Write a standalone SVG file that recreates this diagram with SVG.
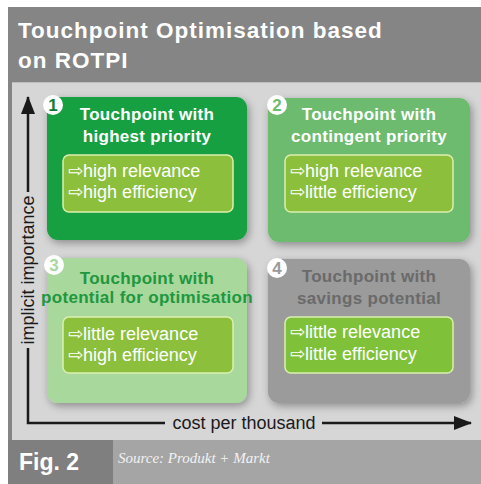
<svg xmlns="http://www.w3.org/2000/svg" width="481" height="484" viewBox="0 0 481 484">
  <defs>
    <filter id="sh" x="-10%" y="-10%" width="125%" height="130%">
      <feGaussianBlur in="SourceAlpha" stdDeviation="4"/>
      <feOffset dx="2" dy="3" result="b"/>
      <feComponentTransfer><feFuncA type="linear" slope="0.35"/></feComponentTransfer>
      <feMerge><feMergeNode/><feMergeNode in="SourceGraphic"/></feMerge>
    </filter>
    <marker id="ah" viewBox="0 0 18 14" refX="17" refY="7" markerWidth="18" markerHeight="14" markerUnits="userSpaceOnUse" orient="auto">
      <path d="M0,0 L18,7 L0,14 Z" fill="#1a1a1a"/>
    </marker>
  </defs>
  <style>
    .h { font-family: "Liberation Sans", Arial, sans-serif; font-weight: bold; }
    .t { font-family: "Liberation Sans", Arial, sans-serif; font-weight: bold; font-size: 17px; text-anchor: middle; letter-spacing: 0.3px; }
    .b { font-family: "Liberation Sans", Arial, "DejaVu Sans", sans-serif; font-size: 18px; fill: #ffffff; }
    .ib { stroke: #dcefae; stroke-width: 1.5; }
    .badge { fill: #ffffff; }
    .bn { font-family: "Liberation Sans", Arial, sans-serif; font-weight: bold; font-size: 17px; text-anchor: middle; }
    .ax { stroke: #1a1a1a; stroke-width: 2.5; fill: none; }
    .al { font-family: "Liberation Sans", Arial, sans-serif; font-size: 18px; fill: #1a1a1a; }
  </style>

  <!-- frame -->
  <rect x="8" y="7" width="473" height="477" fill="#858585"/>
  <rect x="12" y="82" width="469" height="358" fill="#d6d6d6"/>
  <line x1="12" y1="82.5" x2="481" y2="82.5" stroke="#bdbdbd" stroke-width="1"/>

  <!-- header -->
  <text class="h" x="18" y="38" font-size="22.5" fill="#ffffff" letter-spacing="1">Touchpoint Optimisation based</text>
  <text class="h" x="18" y="68" font-size="22.5" fill="#ffffff" letter-spacing="1">on ROTPI</text>

  <!-- footer -->
  <rect x="8" y="440" width="105" height="44" fill="#7f7f7f"/>
  <rect x="113" y="440" width="368" height="44" fill="#a5a5a5"/>
  <text class="h" x="19" y="470" font-size="23" fill="#ffffff">Fig. 2</text>
  <text x="118" y="463" font-family="Liberation Serif, 'Times New Roman', serif" font-style="italic" font-size="15" fill="#f2f2f2">Source: Produkt + Markt</text>

  <!-- connectors (axes) -->
  <g id="connectors">
    <polyline class="ax" points="28,348 28,423 165,423"/>
    <line class="ax" x1="28" y1="192" x2="28" y2="97" marker-end="url(#ah)"/>
    <line class="ax" x1="322" y1="423" x2="471" y2="423" marker-end="url(#ah)"/>
    <text class="al" transform="translate(34,270) rotate(-90)" text-anchor="middle">implicit importance</text>
    <text class="al" x="244" y="429" text-anchor="middle">cost per thousand</text>
  </g>

  <!-- node 1 -->
  <g id="node1">
    <rect x="47" y="97" width="200" height="143" rx="11" fill="#14a043" filter="url(#sh)"/>
    <text class="t" x="147" y="120" fill="#ffffff">Touchpoint with</text>
    <text class="t" x="147" y="142" fill="#ffffff">highest priority</text>
    <rect class="ib" x="63" y="155" width="170" height="57" rx="6" fill="#8cbf3c"/>
    <text class="b" x="68" y="177">⇨high relevance</text>
    <text class="b" x="68" y="198">⇨high efficiency</text>
    <circle class="badge" cx="53" cy="105" r="10"/>
    <text class="bn" x="53" y="111" fill="#0f7a32">1</text>
  </g>

  <!-- node 2 -->
  <g id="node2">
    <rect x="268" y="98" width="202" height="144" rx="11" fill="#6cbb6e" filter="url(#sh)"/>
    <text class="t" x="369" y="120" fill="#ffffff">Touchpoint with</text>
    <text class="t" x="369" y="142" fill="#ffffff">contingent priority</text>
    <rect class="ib" x="285" y="155" width="168" height="57" rx="6" fill="#8cbf3c"/>
    <text class="b" x="290" y="177">⇨high relevance</text>
    <text class="b" x="290" y="198">⇨little efficiency</text>
    <circle class="badge" cx="277" cy="105" r="10"/>
    <text class="bn" x="277" y="111" fill="#6cbb6e">2</text>
  </g>

  <!-- node 3 -->
  <g id="node3">
    <rect x="47" y="258" width="200" height="145" rx="11" fill="#a8d89c" filter="url(#sh)"/>
    <text class="t" x="147" y="284" fill="#20973f" font-size="15.5">Touchpoint with</text>
    <text class="t" x="147" y="303" fill="#20973f" font-size="15.5" letter-spacing="0">potential for optimisation</text>
    <rect class="ib" x="63" y="317" width="170" height="56" rx="6" fill="#8cbf3c"/>
    <text class="b" x="68" y="340">⇨little relevance</text>
    <text class="b" x="68" y="361">⇨high efficiency</text>
    <circle class="badge" cx="54" cy="265" r="10"/>
    <text class="bn" x="54" y="271" fill="#a8d89c">3</text>
  </g>

  <!-- node 4 -->
  <g id="node4">
    <rect x="268" y="259" width="202" height="144" rx="11" fill="#9b9b9b" filter="url(#sh)"/>
    <text class="t" x="369" y="282" fill="#6a6a6a">Touchpoint with</text>
    <text class="t" x="369" y="304" fill="#6a6a6a">savings potential</text>
    <rect class="ib" x="285" y="317" width="168" height="56" rx="6" fill="#7fc23a"/>
    <text class="b" x="290" y="338">⇨little relevance</text>
    <text class="b" x="290" y="360">⇨little efficiency</text>
    <circle class="badge" cx="277" cy="268" r="10"/>
    <text class="bn" x="277" y="274" fill="#9b9b9b">4</text>
  </g>
</svg>
